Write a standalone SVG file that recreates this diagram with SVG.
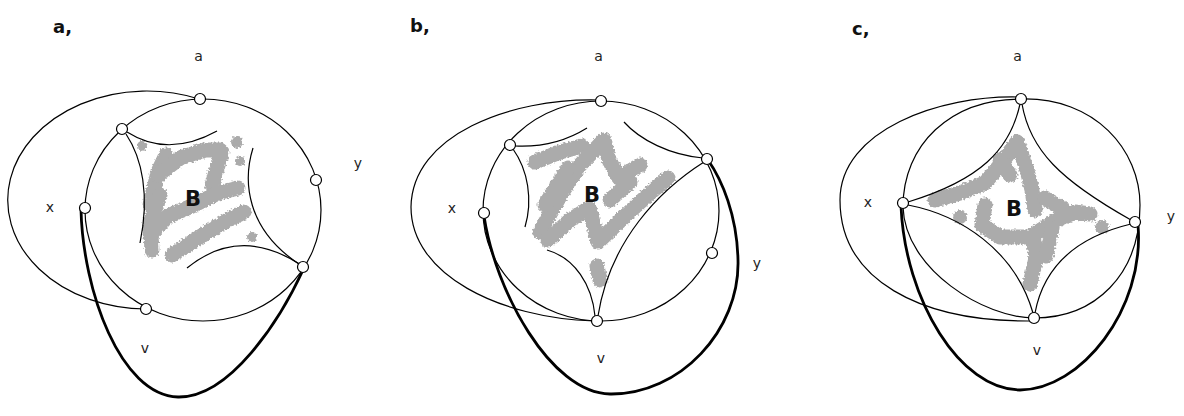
<svg xmlns="http://www.w3.org/2000/svg" width="1184" height="416" viewBox="0 0 1184 416">
<defs>
<filter id="rough" x="-10%" y="-10%" width="120%" height="120%">
  <feTurbulence type="fractalNoise" baseFrequency="0.5" numOctaves="2" seed="3" result="n"/>
  <feDisplacementMap in="SourceGraphic" in2="n" scale="5" xChannelSelector="R" yChannelSelector="G"/>
</filter>
</defs>
<style>
.ln{fill:none;stroke:#000;stroke-width:1.2}
.tk{fill:none;stroke:#000;stroke-width:2.8;stroke-linecap:round}
.nd{fill:#fff;stroke:#000;stroke-width:1.2}
.scr{fill:none;stroke:#ababab;stroke-width:15;stroke-linecap:round;stroke-linejoin:round}
.blob{fill:#ababab}
.t{font-family:"DejaVu Sans","Liberation Sans",sans-serif;font-size:14px;fill:#222;text-anchor:middle}
.p{font-family:"DejaVu Sans","Liberation Sans",sans-serif;font-size:18px;font-weight:bold;fill:#111}
.B{font-family:"DejaVu Sans","Liberation Sans",sans-serif;font-size:21px;font-weight:bold;fill:#111;text-anchor:middle}
</style>
<rect width="1184" height="416" fill="#fff"/>

<!-- region B fillings (scribbles) -->
<g id="scribbles" filter="url(#rough)">
  <path class="scr" d="M150,205 L158,172 L166,155"/>
  <path class="scr" d="M152,250 L150,222 L160,195"/>
  <path class="scr" d="M158,175 L180,158 L205,150 L220,150"/>
  <path class="scr" d="M222,152 L212,185"/>
  <path class="scr" d="M150,235 L168,216 L192,206 L218,193 L238,188"/>
  <path class="scr" d="M172,255 L198,238 L228,220 L244,212"/>
  <circle class="blob" cx="142" cy="146" r="5"/>
  <circle class="blob" cx="237" cy="142" r="6"/>
  <circle class="blob" cx="240" cy="161" r="5"/>
  <circle class="blob" cx="252" cy="237" r="5"/>

  <path class="scr" d="M535,162 L560,152 L582,146"/>
  <path class="scr" d="M540,232 L560,196 L580,165 L604,140 L609,160 L619,178 L640,165"/>
  <path class="scr" d="M548,240 L570,220 L589,208 L594,226 L598,242 L625,216 L650,193 L668,178"/>
  <path class="scr" d="M545,205 L568,168"/>
  <path class="scr" d="M610,200 L630,182"/>
  <path class="scr" stroke-width="10" d="M597,266 L600,280"/>

  <path class="scr" d="M935,200 L960,193 L985,183 L1000,165 L1017,142 L1027,170 L1032,190 L1035,210"/>
  <path class="scr" d="M985,205 L982,225 L1000,237 L1030,237 L1053,222 L1075,212 L1090,214"/>
  <path class="scr" d="M1033,235 L1036,258 L1030,284"/>
  <path class="scr" d="M1052,228 L1046,256"/>
  <path class="scr" d="M1000,160 L1010,175"/>
  <path class="scr" stroke-width="11" d="M1045,198 L1062,208"/>
  <circle class="blob" cx="960" cy="217" r="7"/>
  <circle class="blob" cx="1102" cy="227" r="7"/>
</g>

<g id="connectors">
  <!-- panel a -->
  <ellipse class="ln" cx="203" cy="210" rx="118" ry="111"/>
  <path class="ln" d="M199,99 A139,109 0 1 0 146,309"/>
  <path class="ln" d="M127,132 Q168,158 217,131"/>
  <path class="ln" d="M126,134 C142,158 150,195 140,243"/>
  <path class="ln" d="M253,148 C243,180 245,230 302,266"/>
  <path class="ln" d="M187,268 Q240,225 301,265"/>
  <path class="tk" d="M81,210 C83,290 120,395 178,397 C230,398 280,320 303,270"/>

  <!-- panel b -->
  <ellipse class="ln" cx="601" cy="211" rx="118" ry="110"/>
  <path class="ln" d="M598,100 C510,98 412,135 411,207 C411,275 500,318 594,321"/>
  <path class="ln" d="M515,146 Q555,148 587,128"/>
  <path class="ln" d="M513,149 C528,170 533,200 525,227"/>
  <path class="ln" d="M703,158 C670,155 640,140 624,122"/>
  <path class="ln" d="M704,162 C660,190 610,240 598,316"/>
  <path class="ln" d="M595,316 C592,285 575,258 547,250"/>
  <path class="tk" d="M484,216 C495,290 550,393 610,394 C680,395 740,330 738,260 C737,215 722,180 708,160"/>

  <!-- panel c -->
  <path class="ln" d="M1021,99 C1095,97 1140,150 1140,205 C1140,275 1095,318 1034,318 C985,318 905,270 903,207 C903,145 950,99 1021,99 Z"/>
  <path class="ln" d="M1019,97 C940,95 840,130 840,200 C840,280 920,322 1032,321"/>
  <path class="ln" d="M1020,104 C1010,150 980,180 908,202"/>
  <path class="ln" d="M1022,104 C1030,150 1060,180 1131,220"/>
  <path class="ln" d="M908,205 C960,215 1015,250 1033,313"/>
  <path class="ln" d="M1131,224 C1085,235 1045,260 1035,313"/>
  <path class="tk" d="M901,206 C905,300 960,390 1020,390 C1080,390 1145,310 1138,225"/>
</g>

<g id="a-top"><circle class="nd" cx="200" cy="99" r="5.5"/></g>
<g id="a-ul"><circle class="nd" cx="122" cy="129" r="5.5"/></g>
<g id="a-y"><circle class="nd" cx="316" cy="180" r="5.5"/></g>
<g id="a-x"><circle class="nd" cx="85" cy="208" r="5.5"/></g>
<g id="a-lr"><circle class="nd" cx="303" cy="267" r="5.5"/></g>
<g id="a-v"><circle class="nd" cx="146" cy="309" r="5.5"/></g>

<g id="b-top"><circle class="nd" cx="601" cy="101" r="5.5"/></g>
<g id="b-ul"><circle class="nd" cx="510" cy="145" r="5.5"/></g>
<g id="b-ur"><circle class="nd" cx="707" cy="159" r="5.5"/></g>
<g id="b-x"><circle class="nd" cx="484" cy="213" r="5.5"/></g>
<g id="b-y"><circle class="nd" cx="712" cy="253" r="5.5"/></g>
<g id="b-v"><circle class="nd" cx="597" cy="321" r="5.5"/></g>

<g id="c-top"><circle class="nd" cx="1021" cy="99" r="5.5"/></g>
<g id="c-x"><circle class="nd" cx="903" cy="203" r="5.5"/></g>
<g id="c-y"><circle class="nd" cx="1135" cy="222" r="5.5"/></g>
<g id="c-v"><circle class="nd" cx="1034" cy="318" r="5.5"/></g>

<g id="labels">
  <text class="p" x="53" y="33">a,</text>
  <text class="t" x="198.5" y="61">a</text>
  <text class="t" x="358" y="168">y</text>
  <text class="t" x="50" y="212">x</text>
  <text class="t" x="145" y="353">v</text>
  <text class="B" x="193" y="206">B</text>

  <text class="p" x="410" y="32">b,</text>
  <text class="t" x="598.5" y="61">a</text>
  <text class="t" x="452" y="213">x</text>
  <text class="t" x="757" y="268">y</text>
  <text class="t" x="601" y="363">v</text>
  <text class="B" x="592" y="202">B</text>

  <text class="p" x="852" y="35">c,</text>
  <text class="t" x="1017.5" y="61">a</text>
  <text class="t" x="868" y="207">x</text>
  <text class="t" x="1171" y="221">y</text>
  <text class="t" x="1037" y="355">v</text>
  <text class="B" x="1014" y="216">B</text>
</g>
</svg>
